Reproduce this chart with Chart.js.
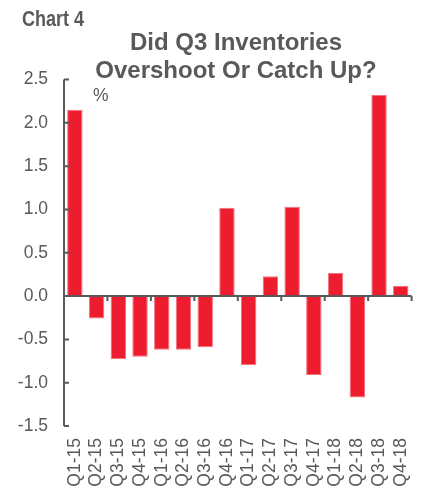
<!DOCTYPE html>
<html>
<head>
<meta charset="utf-8">
<script src="https://cdn.jsdelivr.net/npm/chart.js@4"></script>
<style>
  body { margin: 0; background: #fff; }
  #wrap { position: relative; width: 434px; height: 489px; }
  .note { position: absolute; color: #595959; font-family: "Liberation Sans", Arial, sans-serif; line-height: 1; white-space: nowrap; }
  #chartNo { left: 22px; top: 8px; font-size: 22px; font-weight: bold; transform: scaleX(0.82); transform-origin: left top; }
  #title { left: 0; top: 28px; width: 472px; text-align: center; font-size: 24px; font-weight: bold; line-height: 27.7px; }
  #unit { left: 93px; top: 87px; font-size: 17.5px; }
</style>
</head>
<body>
<div id="wrap">
  <canvas id="chart" width="434" height="489"></canvas>
  <div class="note" id="chartNo">Chart 4</div>
  <div class="note" id="title">Did Q3 Inventories<br>Overshoot Or Catch Up?</div>
  <div class="note" id="unit">%</div>
</div>
<script>
// Data
const quarters = ['Q1-15', 'Q2-15', 'Q3-15', 'Q4-15', 'Q1-16', 'Q2-16', 'Q3-16', 'Q4-16',
                  'Q1-17', 'Q2-17', 'Q3-17', 'Q4-17', 'Q1-18', 'Q2-18', 'Q3-18', 'Q4-18'];
const inventoryChange = [2.15, -0.26, -0.73, -0.70, -0.62, -0.62, -0.59, 1.02,
                         -0.80, 0.23, 1.03, -0.91, 0.27, -1.17, 2.32, 0.12];
const yTicks = [-1.5, -1.0, -0.5, 0.0, 0.5, 1.0, 1.5, 2.0, 2.5];

const grey = '#595959';
const font = '"Liberation Sans", Arial, sans-serif';

// Axis line, inward ticks and the zero line with its ticks
const axisLines = {
    id: 'axisLines',
    afterDatasetsDraw(chart) {
        const { ctx, chartArea, scales: { x, y } } = chart;
        const left = chartArea.left;
        ctx.save();
        ctx.strokeStyle = grey;
        ctx.lineWidth = 2;
        ctx.beginPath();
        ctx.moveTo(left, y.getPixelForValue(yTicks[yTicks.length - 1]));
        ctx.lineTo(left, y.getPixelForValue(yTicks[0]));
        yTicks.forEach(v => {
            const py = y.getPixelForValue(v);
            ctx.moveTo(left, py);
            ctx.lineTo(left + 5, py);
        });
        const y0 = y.getPixelForValue(0);
        ctx.moveTo(left, y0);
        ctx.lineTo(chartArea.right, y0);
        const step = x.getPixelForValue(1) - x.getPixelForValue(0);
        for (let i = 0; i <= quarters.length; i += 2) {
            const px = x.getPixelForValue(0) - step / 2 + i * step;
            ctx.moveTo(px, y0);
            ctx.lineTo(px, y0 + 5);
        }
        ctx.stroke();
        ctx.restore();
    }
};

const chart = new Chart(document.getElementById('chart'), {
    type: 'bar',
    data: {
        labels: quarters,
        datasets: [{
            data: inventoryChange,
            backgroundColor: '#ED1C2E',
            borderColor: '#F0707C',
            borderWidth: 1,
            borderSkipped: false,
            categoryPercentage: 1,
            barPercentage: 0.71
        }]
    },
    options: {
        responsive: false,
        animation: false,
        layout: { padding: { left: 0, right: 8, top: 79.5, bottom: 0 } },
        plugins: {
            legend: { display: false },
            tooltip: { enabled: false }
        },
        scales: {
            x: {
                grid: { display: false, drawTicks: false },
                border: { display: false },
                ticks: {
                    color: grey,
                    font: { family: font, size: 17.5 },
                    autoSkip: false,
                    minRotation: 90,
                    maxRotation: 90,
                    padding: 12
                },
                afterFit: scale => { scale.height = 63; }
            },
            y: {
                min: -1.5,
                max: 2.5,
                grid: { display: false, drawTicks: false },
                border: { display: false },
                ticks: {
                    stepSize: 0.5,
                    color: grey,
                    font: { family: font, size: 17.5 },
                    padding: 16,
                    callback: v => v.toFixed(1)
                },
                afterFit: scale => { scale.width = 64; }
            }
        }
    },
    plugins: [axisLines]
});
</script>
</body>
</html>
